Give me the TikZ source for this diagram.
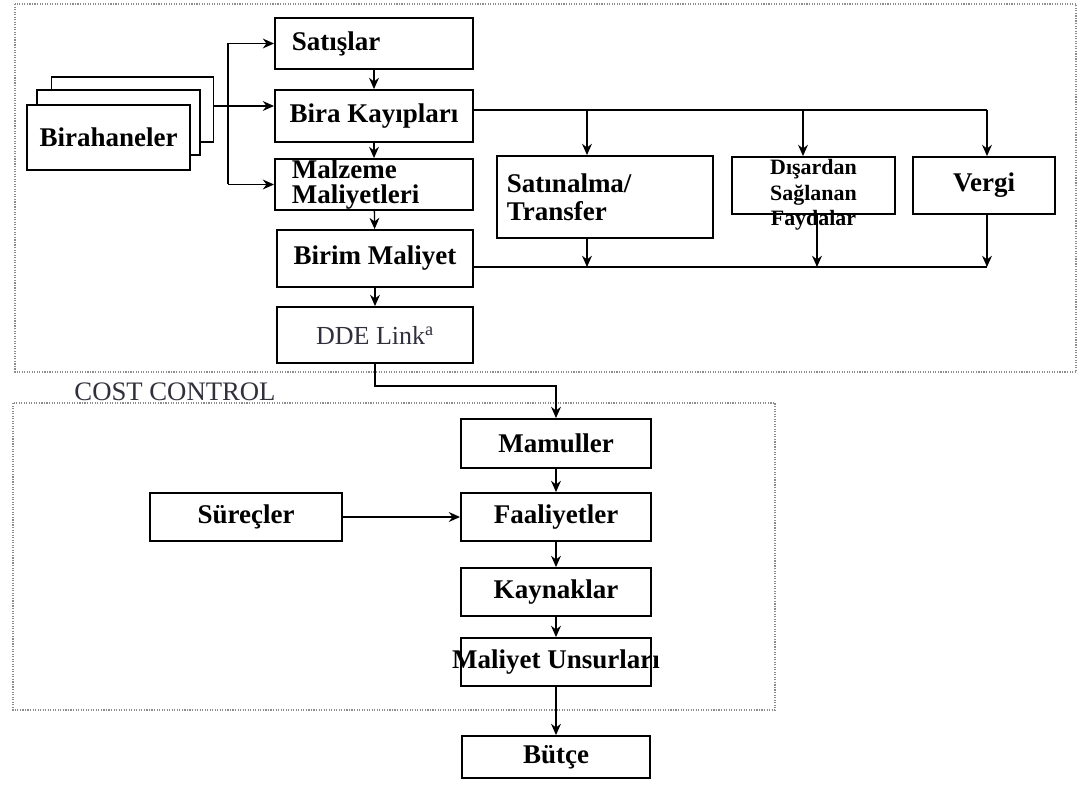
\documentclass[tikz,border=0pt]{standalone}
\usepackage{fontspec}
\setmainfont{Liberation Serif}
\usetikzlibrary{arrows.meta, positioning, calc}
\definecolor{inkgray}{HTML}{30303C}
\definecolor{framegray}{HTML}{8C8C8C}

\tikzset{
  block/.style={draw, fill=white, line width=1.3pt, inner sep=0pt,
    font=\bfseries\fontsize{19.2}{20}\selectfont},
  flow/.style={line width=0.9pt, -{Stealth[length=8pt,width=7pt]}},
  wire/.style={line width=0.9pt},
  frame/.style={framegray, densely dotted, line width=0.8pt},
}

\begin{document}
\begin{tikzpicture}[x=0.025cm, y=-0.025cm]
    \fill[white] (0,0) rectangle (1085,787);
    \useasboundingbox (0,0) rectangle (1085,787);

    % dotted frames
    \draw[frame] (15,4) rectangle (1076,372);
    \draw[frame] (13,403) rectangle (775,710);
    \node[font=\fontsize{19}{20}\selectfont, text=inkgray] (costctl) at (175,392) {COST CONTROL};

    % stacked pub boxes
    \node[block, minimum width=4.05cm, minimum height=1.625cm] (pub3) at (132.5,109.5) {};
    \node[block, minimum width=4.075cm, minimum height=1.625cm] (pub2) at (118.5,122.5) {};
    \node[block, minimum width=4.075cm, minimum height=1.625cm] (pub1) at (108.5,137.5) {Birahaneler};

    % main column
    \node[block, minimum width=4.95cm, minimum height=1.275cm, text width=4.1cm, align=left] (sales) at (374,43.5) {Satışlar};
    \node[block, minimum width=4.95cm, minimum height=1.3cm] (beerloss) at (374,116) {Bira Kayıpları};
    \node[block, minimum width=4.95cm, minimum height=1.275cm, text width=4.1cm, align=left,
      font=\bfseries\fontsize{19.2}{17.5}\selectfont] (material) at (374,184.5) {Malzeme\\Maliyetleri};
    \node[block, minimum width=4.9cm, minimum height=1.425cm] (unitcost) at (375,258.5) {Birim Maliyet};
    \node[block, minimum width=4.9cm, minimum height=1.4cm, font=\fontsize{18.5}{20}\selectfont,
      text=inkgray] (ddelink) at (375,335) {DDE Link\textsuperscript{a}};

    % side boxes
    \node[block, minimum width=5.4cm, minimum height=2.05cm, text width=4.9cm, align=left] (purchase) at (605,197) {Satınalma/\\Transfer};
    \node[block, minimum width=4.075cm, minimum height=1.425cm, text width=4.075cm, align=center,
      text height=0.45cm, text depth=0.975cm,
      font=\bfseries\fontsize{15.6}{18.1}\selectfont] (benefits) at (813.5,185.5) {Dışardan\\Sağlanan\\Faydalar};
    \node[block, minimum width=3.55cm, minimum height=1.425cm] (tax) at (984,185.5) {Vergi};

    % cost control column
    \node[block, minimum width=4.75cm, minimum height=1.225cm] (products) at (556,443.5) {Mamuller};
    \node[block, minimum width=4.75cm, minimum height=1.2cm] (activities) at (556,517) {Faaliyetler};
    \node[block, minimum width=4.8cm, minimum height=1.2cm] (processes) at (246,517) {Süreçler};
    \node[block, minimum width=4.75cm, minimum height=1.2cm] (resources) at (556,592) {Kaynaklar};
    \node[block, minimum width=4.75cm, minimum height=1.2cm] (costelem) at (556,662) {\makebox[4.75cm]{Maliyet Unsurları}};
    \node[block, minimum width=4.7cm, minimum height=1.05cm] (budget) at (556,757) {Bütçe};

    % pubs feed the first three boxes
    \coordinate (fork) at (228,106);
    \draw[flow] (pub3.east |- fork) -- (beerloss.west |- fork);
    \draw[wire] (fork |- sales.west) -- (fork |- material.west);
    \draw[flow] (fork |- sales.west) -- (sales.west);
    \draw[flow] (fork |- material.west) -- (material.west);

    \draw[flow] (sales) -- (beerloss);
    \draw[flow] (beerloss) -- (material);
    \draw[flow] (material) -- (unitcost);
    \draw[flow] (unitcost) -- (ddelink);

    % distribution and collection lines
    \coordinate (tapP) at (587,110);
    \coordinate (tapB) at (803,110);
    \coordinate (tapV) at (987,110);
    \coordinate (sumP) at (587,267);
    \coordinate (sumB) at (817,267);
    \coordinate (sumV) at (987,267);
    \draw[wire] (beerloss.east |- tapV) -- (tapV);
    \draw[flow] (tapP) -- (tapP |- purchase.north);
    \draw[flow] (tapB) -- (tapB |- benefits.north);
    \draw[flow] (tapV) -- (tapV |- tax.north);
    \draw[wire] (unitcost.east |- sumV) -- (sumV);
    \draw[flow] (purchase.south -| sumP) -- (sumP);
    \draw[flow] (benefits.south -| sumB) -- (sumB);
    \draw[flow] (tax.south -| sumV) -- (sumV);

    % link down into cost control
    \draw[flow] (ddelink.south) -- ++(0,22) -| (products.north);
    \draw[flow] (products) -- (activities);
    \draw[flow] (processes) -- (activities);
    \draw[flow] (activities) -- (resources);
    \draw[flow] (resources) -- (costelem);
    \draw[flow] (costelem) -- (budget);
\end{tikzpicture}
\end{document}
